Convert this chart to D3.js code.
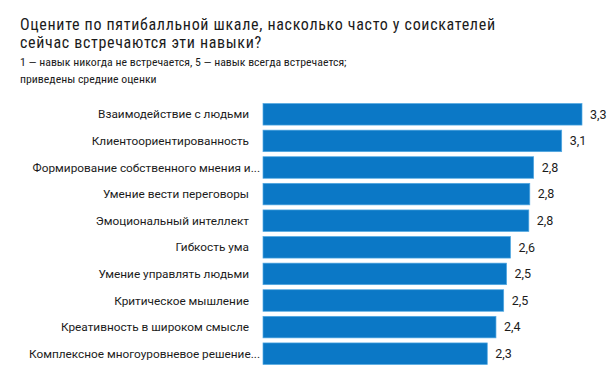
<!DOCTYPE html>
<meta charset="utf-8">
<script src="https://d3js.org/d3.v7.min.js"></script>
<style>
  body { margin: 0; background: #fff; }
  text { fill: #1b1b1b; }
  .title { font-family: "Liberation Sans Narrow", "Roboto Condensed", "DejaVu Sans Condensed", sans-serif; }
  .lab { font-family: Roboto, "Noto Sans", sans-serif; font-size: 11.8px; }
  .val { font-size: 12.5px; }
</style>
<div id="chart"></div>
<script>

// данные
var skills = [
  "Взаимодействие с людьми",
  "Клиентоориентированность",
  "Формирование собственного мнения и...",
  "Умение вести переговоры",
  "Эмоциональный интеллект",
  "Гибкость ума",
  "Умение управлять людьми",
  "Критическое мышление",
  "Креативность в широком смысле",
  "Комплексное многоуровневое решение..."
];
var scores = [3.30, 3.09, 2.80, 2.76, 2.75, 2.56, 2.52, 2.49, 2.41, 2.32];

var titleLines = [
  "Оцените по пятибалльной шкале, насколько часто у соискателей",
  "сейчас встречаются эти навыки?"
];
var subtitleLines = [
  "1 — навык никогда не встречается, 5 — навык всегда встречается;",
  "приведены средние оценки"
];

var width = 614, height = 384;

var svg = d3.select("#chart")
  .append("svg")
    .attr("width", width)
    .attr("height", height);

// заголовок
svg.selectAll(".t")
  .data(titleLines)
  .enter()
  .append("text")
    .attr("class", "title")
    .attr("x", 20)
    .attr("y", function(d, i){ return 29.5 + i * 18 })
    .style("font-size", "16px")
    .style("letter-spacing", "0.68px")
    .text(function(d){ return d });

svg.selectAll(".st")
  .data(subtitleLines)
  .enter()
  .append("text")
    .attr("class", "title")
    .attr("x", 20)
    .attr("y", function(d, i){ return 66 + i * 17 })
    .style("font-size", "11.8px")
    .text(function(d){ return d });

// шкалы
var x = d3.scaleLinear()
  .domain([0, 3.3])
  .range([263, 582]);

var y = d3.scaleBand()
  .domain(skills)
  .range([101, 367])
  .paddingInner(0.19)
  .paddingOuter(0.095);

var fmt = function(v){ return d3.format(".1f")(v).replace(".", ",") };

var rows = skills.map(function(s, i){ return {skill: s, score: scores[i]} });

svg.selectAll("rect.bar")
  .data(rows)
  .enter()
  .append("rect")
    .attr("class", "bar")
    .attr("x", x(0))
    .attr("y", function(d){ return y(d.skill) })
    .attr("width", function(d){ return x(d.score) - x(0) })
    .attr("height", y.bandwidth())
    .attr("fill", "#0b78c6")
    .attr("stroke", "#52a8e2")
    .attr("stroke-width", 0.7);

// подписи категорий
svg.selectAll("text.cat")
  .data(rows)
  .enter()
  .append("text")
    .attr("class", "lab cat")
    .attr("x", function(d){ return /\.\.\.$/.test(d.skill) ? 260 : 249 })
    .attr("y", function(d){ return y(d.skill) + y.bandwidth() / 2 })
    .attr("dy", "0.35em")
    .attr("text-anchor", "end")
    .text(function(d){ return d.skill });

// значения
svg.selectAll("text.val")
  .data(rows)
  .enter()
  .append("text")
    .attr("class", "lab val")
    .attr("x", function(d){ return x(d.score) + 8 })
    .attr("y", function(d){ return y(d.skill) + y.bandwidth() / 2 })
    .attr("dy", "0.35em")
    .text(function(d){ return fmt(d.score) });

</script>
